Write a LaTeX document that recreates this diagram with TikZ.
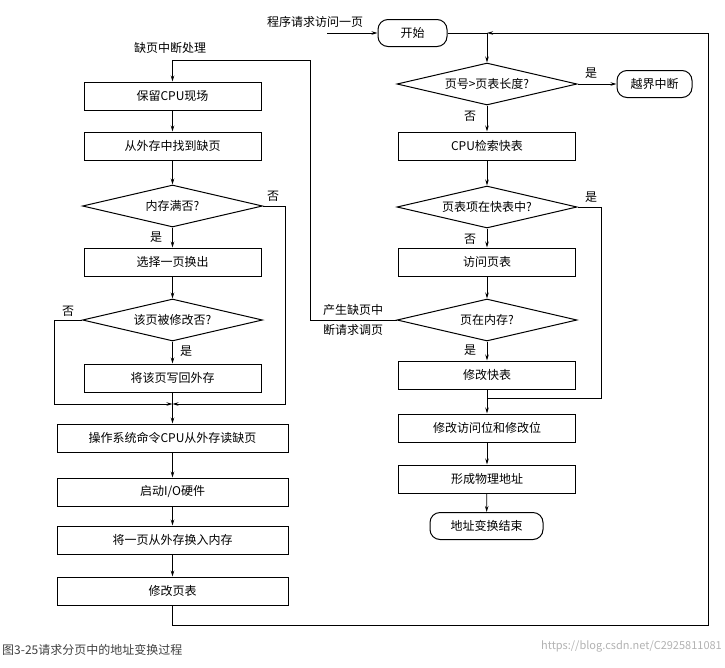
\documentclass[tikz,border=0pt]{standalone}
\usepackage{fontspec}
\setmainfont{Noto Sans CJK SC}
\usetikzlibrary{arrows.meta,shapes.geometric}
\begin{document}
\begin{tikzpicture}[x=1pt,y=-1pt,
  every node/.style={font=\fontsize{12}{14}\selectfont},
  box/.style={draw,line width=1pt,minimum height=28pt,inner sep=0pt},
  lb/.style={box,minimum width=177pt},
  wb/.style={box,minimum width=231pt},
  dia/.style={draw,line width=1pt,diamond,aspect=4.3,minimum width=180pt,minimum height=42pt,inner sep=0pt},
  term/.style={draw,line width=1pt,rounded corners=10pt,minimum height=27pt,inner sep=0pt},
  lab/.style={inner sep=1pt},
  ln/.style={line width=0.8pt},
  ar/.style={ln,-{Stealth[length=6pt,width=3.5pt]}}]
\useasboundingbox (0,0) rectangle (725,667);
% left column
\node[lab] (tq) at (170,48) {缺页中断处理};
\node[lb] (b1) at (172.5,96) {保留CPU现场};
\node[lb] (b2) at (172.5,146) {从外存中找到缺页};
\node[dia] (d1) at (172.5,206) {内存满否?};
\node[lb] (b3) at (172.5,262) {选择一页换出};
\node[dia] (d2) at (172.5,320) {该页被修改否?};
\node[lb] (b4) at (172.5,378) {将该页写回外存};
\coordinate (m) at (172.5,404);
\node[wb] (b5) at (172.5,438) {操作系统命令CPU从外存读缺页};
\node[wb] (b6) at (172.5,492) {启动I/O硬件};
\node[wb] (b7) at (172.5,540) {将一页从外存换入内存};
\node[wb] (b8) at (172.5,591) {修改页表};
% right column
\node[lab] (pq) at (315,22) {程序请求访问一页};
\node[term,minimum width=69pt] (st) at (412.5,33) {开始};
\coordinate (j0) at (487,33);
\node[dia] (r1) at (487,84) {页号>页表长度?};
\node[term,minimum width=75pt] (ov) at (654.5,84) {越界中断};
\node[lb] (r2) at (487,146) {CPU检索快表};
\node[dia] (r3) at (487,207) {页表项在快表中?};
\node[lb] (r4) at (487,262) {访问页表};
\node[dia] (r5) at (487,320) {页在内存?};
\node[lb] (r6) at (487,375) {修改快表};
\coordinate (j1) at (487,398);
\node[lb] (r7) at (487,428) {修改访问位和修改位};
\node[lb] (r8) at (487,479) {形成物理地址};
\node[term,minimum width=113pt] (en) at (486.5,526) {地址变换结束};
% labels
\node[lab] at (273,196) {否};
\node[lab] at (156,237) {是};
\node[lab] at (68,311) {否};
\node[lab] at (186,351) {是};
\node[lab] at (591,73) {是};
\node[lab] at (470,116) {否};
\node[lab] at (591,197) {是};
\node[lab] at (470,239) {否};
\node[lab] at (470,350) {是};
\node[lab,align=left] at (353,320) {产生缺页中\\[6pt]断请求调页};
% left connectors
\draw[ar] (r5.west) -- (310,320) |- (172.5,60) -- (b1.north);
\draw[ar] (b1) -- (b2);
\draw[ar] (b2) -- (d1);
\draw[ar] (d1) -- (b3);
\draw[ar] (b3) -- (d2);
\draw[ar] (d2) -- (b4);
\draw[ar] (d1.east) -- (285,206) |- (m);
\draw[ar] (d2.west) -- (54,320) |- (m);
\draw[ln] (b4) -- (m);
\draw[ar] (m) -- (b5);
\draw[ar] (b5) -- (b6);
\draw[ar] (b6) -- (b7);
\draw[ar] (b7) -- (b8);
\draw[ar] (b8.south) -- (172.5,625) -| (708,33) -- (j0);
% right connectors
\draw[ar] (327,33) -- (st.west);
\draw[ln] (st.east) -- (j0);
\draw[ar] (j0) -- (r1.north);
\draw[ar] (r1.east) -- (ov.west);
\draw[ar] (r1) -- (r2);
\draw[ar] (r2) -- (r3);
\draw[ar] (r3) -- (r4);
\draw[ar] (r4) -- (r5);
\draw[ar] (r5) -- (r6);
\draw[ln] (r6) -- (j1);
\draw[ln] (r3.east) -- (601,207) |- (j1);
\draw[ar] (j1) -- (r7);
\draw[ar] (r7) -- (r8);
\draw[ar] (r8) -- (en);
% caption
\node[anchor=west,inner sep=0pt,font=\fontsize{12}{14}\selectfont,text=black!75] at (2,650) {图3-25请求分页中的地址变换过程};
\node[anchor=east,inner sep=0pt,font=\fontsize{11}{13}\selectfont,text=black!30] at (722,646) {https://blog.csdn.net/C2925811081};
\end{tikzpicture}
\end{document}
